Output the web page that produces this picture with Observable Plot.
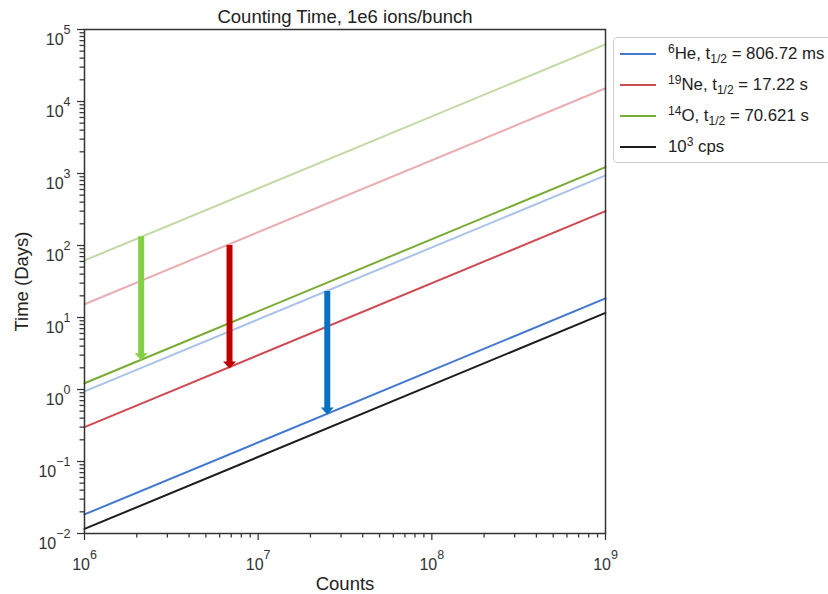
<!DOCTYPE html>
<html><head><meta charset="utf-8">
<script src="https://cdn.jsdelivr.net/npm/d3@7"></script>
<script src="https://cdn.jsdelivr.net/npm/@observablehq/plot@0.6"></script>
<style>
body{margin:0;background:#fff;font-family:"Liberation Sans",Arial,sans-serif;}
#wrap{position:relative;width:828px;height:594px;overflow:hidden;background:#fff;}
#legend{position:absolute;left:613px;top:37px;width:240px;height:126px;border:1px solid #d0d0d0;border-radius:4px;background:#fff;box-sizing:border-box;color:#222;}
.row{position:absolute;left:0;height:24px;width:100%;}
.row .sw{position:absolute;left:6px;top:11px;width:36px;height:2px;}
.row .lb{position:absolute;left:54px;top:2px;font-size:16.8px;white-space:nowrap;line-height:20px;}
.row .lb sup{font-size:72%;vertical-align:0.5em;line-height:0;}
.row .lb sub{font-size:72%;vertical-align:-0.3em;line-height:0;}
</style>
</head><body>
<div id="wrap"><div id="chart"></div><div id="legend"></div></div>
<script>
// ---- data ----
const countsDomain = [1e6, 1e9];
const timeDomain = [1e-2, 1e5];
const xTicks = [1e6, 1e7, 1e8, 1e9];
const yTicks = [1e-2, 1e-1, 1e0, 1e1, 1e2, 1e3, 1e4, 1e5];

const seriesKeys = ["6He", "19Ne", "14O", "cps"];
const massNumbers = ["6", "19", "14"];
const elements = ["He", "Ne", "O"];
const halfLives = ["806.72 ms", "17.22 s", "70.621 s"];
const seriesColors = ["#4278d1", "#cf4b53", "#7aab34", "#1c1c1c"];
const timeAtLow = [0.0184, 0.30, 1.22, 0.01157];   // days at 1e6 counts
const timeAtHigh = [18.4, 300, 1224, 11.57];        // days at 1e9 counts

const lightKeys = ["6He", "19Ne", "14O"];
const lightAtLow = [0.94, 15.3, 62];
const lightAtHigh = [940, 15300, 62000];

const arrowCounts = [2.5e7, 6.84e6, 2.12e6];
const arrowTop = [23, 100, 132];
const arrowTip = [0.45, 1.95, 2.55];
const arrowColors = ["#0a70c2", "#c00000", "#84cf45"];

// ---- tables ----
const lines = seriesKeys.flatMap((k, i) => [
  {k, x: countsDomain[0], y: timeAtLow[i], c: seriesColors[i]},
  {k, x: countsDomain[1], y: timeAtHigh[i], c: seriesColors[i]}
]);
const lightLines = lightKeys.flatMap((k, i) => [
  {k, x: countsDomain[0], y: lightAtLow[i], c: seriesColors[i]},
  {k, x: countsDomain[1], y: lightAtHigh[i], c: seriesColors[i]}
]);
const arrows = arrowCounts.map((x, i) => ({x, top: arrowTop[i], tip: arrowTip[i], c: arrowColors[i]}));

const minorX = xTicks.slice(0, -1).flatMap(d => d3.range(2, 10).map(m => m * d));
const minorY = yTicks.slice(0, -1).flatMap(d => d3.range(2, 10).map(m => m * d));
const expFmt = d => "10^" + Math.round(Math.log10(d));

const headDown = {draw(ctx) { ctx.moveTo(-6.5, -7); ctx.lineTo(6.5, -7); ctx.lineTo(0, 0); ctx.closePath(); }};

const axisColor = "#333";
const labelSize = 18.5;
const chart = Plot.plot({
  width: 828, height: 594,
  marginLeft: 84, marginRight: 223, marginTop: 29, marginBottom: 61,
  style: {fontFamily: "'Liberation Sans', Arial, sans-serif", background: "#fff"},
  x: {type: "log", domain: countsDomain},
  y: {type: "log", domain: timeDomain},
  marks: [
    Plot.line(lightLines, {x: "x", y: "y", z: "k", stroke: "c", strokeWidth: 2, strokeOpacity: 0.45}),
    Plot.line(lines, {x: "x", y: "y", z: "k", stroke: "c", strokeWidth: 2}),
    Plot.ruleX(arrows, {x: "x", y1: "top", y2: "tip", stroke: "c", strokeWidth: 6, insetBottom: 6}),
    Plot.dot(arrows, {x: "x", y: "tip", fill: "c", stroke: null, symbol: headDown, r: 5}),
    Plot.axisX(minorX, {tickSize: 4.5, tickFormat: () => "", label: null, color: axisColor, strokeWidth: 1.25}),
    Plot.axisY(minorY, {tickSize: 4.5, tickFormat: () => "", label: null, color: axisColor, strokeWidth: 1.25}),
    Plot.axisX(xTicks, {tickSize: 7, tickPadding: 18, tickFormat: expFmt, label: null, fontSize: 16, color: axisColor, strokeWidth: 1.25}),
    Plot.axisY(yTicks, {tickSize: 7, tickPadding: 7, tickFormat: expFmt, label: null, fontSize: 16, color: axisColor, strokeWidth: 1.25}),
    Plot.frame({stroke: axisColor, strokeWidth: 1.5}),
    Plot.text(["Counting Time, 1e6 ions/bunch"], {text: d => d, frameAnchor: "top", lineAnchor: "middle", textAnchor: "middle", dy: -12, fontSize: labelSize, fill: "#222"}),
    Plot.text(["Counts"], {text: d => d, frameAnchor: "bottom", lineAnchor: "middle", textAnchor: "middle", dy: 50.5, fontSize: labelSize, fill: "#222"}),
    Plot.text(["Time (Days)"], {text: d => d, frameAnchor: "left", lineAnchor: "middle", textAnchor: "middle", dx: -62, rotate: -90, fontSize: labelSize, fill: "#222"})
  ]
});
document.getElementById("chart").appendChild(chart);

// tick labels: font size and superscript exponents
d3.select(chart).selectAll("text").each(function() {
  const t = this.textContent;
  const m = /^10\^(-?\d+)$/.exec(t);
  if (!m) return;
  const el = d3.select(this);
  const anchor = el.attr("text-anchor") || (this.parentNode && this.parentNode.getAttribute("text-anchor"));
  const isY = anchor === "end";
  el.attr("font-size", "16px").style("font-size", "16px");
  if (isY) el.attr("dy", "0.67em");
  el.text("10");
  el.append("tspan").attr("dy", "-11px").attr("font-size", "12.5px").style("font-size", "12.5px").text(m[1].replace("-", "\u2212"));
});

// legend
const legend = d3.select("#legend");
const labels = massNumbers.map((m, i) => `<sup>${m}</sup>${elements[i]}, t<sub>1/2</sub> = ${halfLives[i]}`);
labels.push(`10<sup>3</sup> cps`);
labels.forEach((html, i) => {
  const row = legend.append("div").attr("class", "row").style("top", (4 + i * 31) + "px");
  row.append("div").attr("class", "sw").style("background", seriesColors[i]);
  row.append("div").attr("class", "lb").html(html);
});
</script>
</body></html>
